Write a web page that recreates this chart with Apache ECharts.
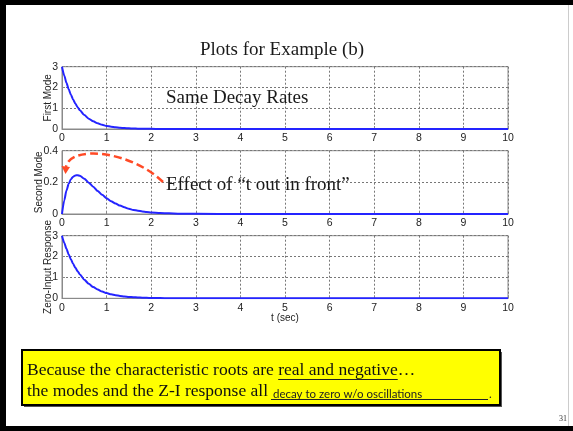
<!DOCTYPE html>
<html>
<head>
<meta charset="utf-8">
<script src="https://cdn.jsdelivr.net/npm/echarts@6/dist/echarts.min.js"></script>
<style>html,body{margin:0;padding:0;background:#fff}#c{width:573px;height:431px}</style>
</head>
<body>
<div id="c"></div>
<script>
// ---- data ----
const tVals = [0,0.05,0.1,0.15,0.2,0.25,0.3,0.35,0.4,0.5,0.6,0.7,0.8,0.9,1.0,1.1,1.2,1.3,1.4,1.5,1.6,1.7,1.8,1.9,2.0,2.2,2.4,2.6,2.8,3,4,5,6,7,8,9,10];
const firstMode = [3,2.582,2.222,1.913,1.646,1.417,1.220,1.050,0.904,0.669,0.496,0.368,0.272,0.202,0.149,0.111,0.082,0.061,0.045,0.033,0.025,0.018,0.014,0.010,0.007,0.004,0.002,0.001,0.001,0,0,0,0,0,0,0,0];
const secondMode = [0,0.086,0.148,0.191,0.220,0.236,0.244,0.245,0.241,0.223,0.198,0.172,0.145,0.121,0.100,0.081,0.066,0.053,0.042,0.033,0.026,0.021,0.016,0.013,0.010,0.006,0.004,0.002,0.001,0.001,0,0,0,0,0,0,0];
const zeroInput = [3,2.668,2.370,2.104,1.866,1.653,1.464,1.295,1.145,0.892,0.694,0.540,0.417,0.323,0.249,0.192,0.148,0.114,0.087,0.066,0.051,0.039,0.030,0.023,0.017,0.010,0.006,0.003,0.002,0.001,0,0,0,0,0,0,0];
const panelNames = ['First Mode','Second Mode','Zero-Input Response'];
const panelMax = [3,0.4,3];
const panelInterval = [1,0.2,1];
const xTickInterval = 1;
const xMax = 10;
const titleText = 'Plots for Example (b)';
const note1 = 'Same Decay Rates';
const note2 = 'Effect of \u201ct out in front\u201d';
const boxLine1a = 'Because the characteristic roots are ';
const boxLine1b = 'real and negative';
const boxLine1c = '\u2026';
const boxLine2a = 'the modes and the Z-I response all ';
const boxLine2b = 'decay to zero w/o oscillations';
const pageNum = '31';

// ---- layout ----
const gridTops = [66.7, 150.7, 235.7];
const gridHeights = [62.3, 63.3, 62.6];
const nameGaps = [9, 17.5, 9];
const seriesVals = [firstMode, secondMode, zeroInput];

const mctx = document.createElement('canvas').getContext('2d');
function tw(t, font){ mctx.font = font; return mctx.measureText(t).width; }

const serif = '"Liberation Serif", "DejaVu Serif", serif';
const sans = '"Liberation Sans", Arial, sans-serif';

const chart = echarts.init(document.getElementById('c'), null, {renderer:'canvas'});

const grids = [], xAxes = [], yAxes = [], series = [];
for (let i=0;i<3;i++){
  grids.push({left:62, right:65, top:gridTops[i], height:gridHeights[i], show:true, borderColor:'#8a8a8a', borderWidth:1, containLabel:false});
  xAxes.push({
    gridIndex:i, type:'value', min:0, max:xMax, interval:xTickInterval,
    axisLine:{show:true, lineStyle:{color:'#8a8a8a', width:1}},
    axisTick:{show:true, inside:true, length:3, lineStyle:{color:'#8a8a8a'}},
    axisLabel:{color:'#222', fontSize:10.5, fontFamily:sans, margin:4},
    splitLine:{show:true, lineStyle:{color:'#777', type:[2,2], width:1}},
    name: i===2 ? 't (sec)' : '', nameLocation:'middle', nameGap:15,
    nameMoveOverlap:false,
    nameTextStyle:{color:'#222', fontSize:10, fontFamily:sans}
  });
  yAxes.push({
    gridIndex:i, type:'value', min:0, max:panelMax[i], interval:panelInterval[i],
    axisLine:{show:true, lineStyle:{color:'#8a8a8a', width:1}},
    axisTick:{show:true, inside:true, length:3, lineStyle:{color:'#8a8a8a'}},
    axisLabel:{color:'#222', fontSize:10.5, fontFamily:sans, margin:4},
    splitLine:{show:true, lineStyle:{color:'#777', type:[2,2], width:1}},
    name:panelNames[i], nameLocation:'middle', nameGap:nameGaps[i], nameRotate:90,
    nameMoveOverlap:false,
    nameTextStyle:{color:'#222', fontSize:10, fontFamily:sans}
  });
  series.push({
    type:'line', xAxisIndex:i, yAxisIndex:i, showSymbol:false, smooth:0.25, smoothMonotone:'x',
    lineStyle:{color:'#2424ff', width:2}, itemStyle:{color:'#2424ff'},
    data: tVals.map((t,k)=>[t, seriesVals[i][k]]), z:3, animation:false
  });
}

const f1 = '17.5px ' + serif;
const boxX = 27;
const w1a = tw(boxLine1a, f1), w1b = tw(boxLine1b, f1);
const fSmall = '11.5px Lato, "Open Sans", sans-serif';

const graphic = [
  // slide frame
  {type:'rect', shape:{x:0,y:0,width:6,height:431}, style:{fill:'#000'}, z:100},
  {type:'rect', shape:{x:0,y:0,width:573,height:5}, style:{fill:'#000'}, z:100},
  {type:'rect', shape:{x:0,y:426,width:573,height:5}, style:{fill:'#000'}, z:100},
  {type:'line', shape:{x1:568.5,y1:5,x2:568.5,y2:426}, style:{stroke:'#ccc', lineWidth:1}, z:100},
  // title & notes
  {type:'text', style:{x:282, y:50, text:titleText, font:'19px '+serif, fill:'#1a1a1a', textAlign:'center', textVerticalAlign:'middle'}, z:50},
  {type:'text', style:{x:166, y:98, text:note1, font:'19px '+serif, fill:'#1a1a1a', textAlign:'left', textVerticalAlign:'middle'}, z:50},
  {type:'text', style:{x:166, y:185, text:note2, font:'19px '+serif, fill:'#1a1a1a', textAlign:'left', textVerticalAlign:'middle'}, z:50},
  // arrow annotation
  {type:'bezierCurve', shape:{x1:163,y1:182,cpx1:130,cpy1:150,cpx2:70,cpy2:145,x2:66,y2:167}, style:{stroke:'#ff4a26', lineWidth:2.5, lineDash:[8,4], fill:null}, z:50},
  {type:'polygon', shape:{points:[[65.5,174],[61.5,166],[70,167]]}, style:{fill:'#ff4a26'}, z:50},
  // yellow box
  {type:'rect', shape:{x:24,y:352,width:478,height:55}, style:{fill:'#555'}, z:40},
  {type:'rect', shape:{x:22,y:350,width:478,height:55}, style:{fill:'#ffff00', stroke:'#000', lineWidth:2}, z:41},
  {type:'text', style:{x:boxX, y:370, text:boxLine1a+boxLine1b+boxLine1c, font:f1, fill:'#111', textAlign:'left', textVerticalAlign:'middle'}, z:45},
  {type:'line', shape:{x1:boxX+w1a, y1:379.5, x2:boxX+w1a+w1b, y2:379.5}, style:{stroke:'#222', lineWidth:1}, z:45},
  {type:'text', style:{x:boxX, y:391, text:boxLine2a, font:f1, fill:'#111', textAlign:'left', textVerticalAlign:'middle'}, z:45},
  {type:'text', style:{x:273, y:394, text:boxLine2b, font:fSmall, fill:'#222', textAlign:'left', textVerticalAlign:'middle'}, z:45},
  {type:'line', shape:{x1:271, y1:399.5, x2:488, y2:399.5}, style:{stroke:'#222', lineWidth:1}, z:45},
  {type:'text', style:{x:489, y:394, text:'.', font:fSmall, fill:'#222', textAlign:'left', textVerticalAlign:'middle'}, z:45},
  // page number
  {type:'text', style:{x:563, y:419, text:pageNum, font:'8px '+serif, fill:'#333', textAlign:'center', textVerticalAlign:'middle'}, z:50}
];

chart.setOption({
  animation:false,
  backgroundColor:'#fff',
  grid:grids, xAxis:xAxes, yAxis:yAxes, series:series,
  graphic:graphic
});
</script>
</body>
</html>
